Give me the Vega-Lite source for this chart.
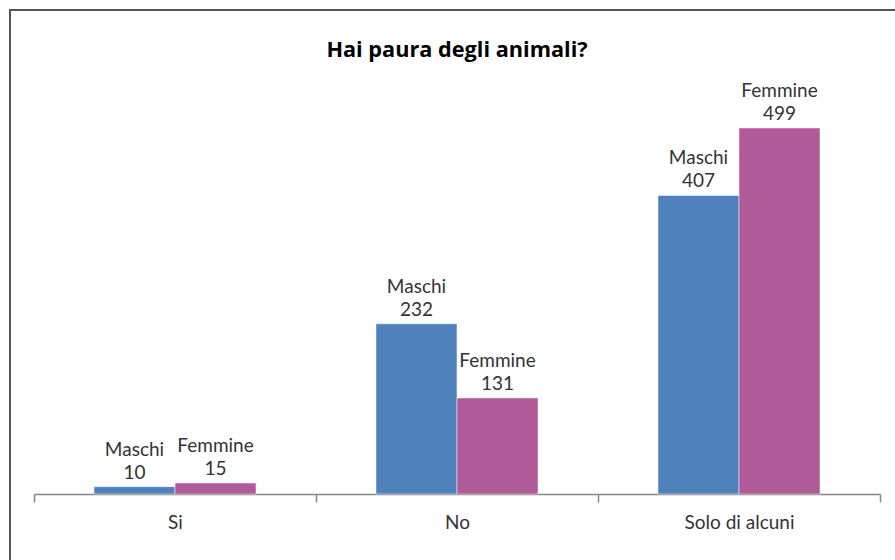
{
  "$schema": "https://vega.github.io/schema/vega-lite/v6.json",
  "autosize": {"type": "none"},
  "width": 900,
  "height": 560,
  "padding": {"left": 10, "top": 10, "right": 0, "bottom": 0},
  "background": "#ffffff",
  "config": {
    "view": {"stroke": "#555555", "strokeWidth": 2},
    "font": "Lato"
  },
  "title": {
    "text": "Hai paura degli animali?",
    "font": "Open Sans",
    "fontSize": 21.7,
    "fontWeight": "bold",
    "color": "#000000",
    "anchor": "middle",
    "frame": "group",
    "offset": -52,
    "dx": -3
  },
  "data": {
    "values": [
      {"risposta": "Si", "sesso": "Maschi", "valore": 10},
      {"risposta": "Si", "sesso": "Femmine", "valore": 15},
      {"risposta": "No", "sesso": "Maschi", "valore": 232},
      {"risposta": "No", "sesso": "Femmine", "valore": 131},
      {"risposta": "Solo di alcuni", "sesso": "Maschi", "valore": 407},
      {"risposta": "Solo di alcuni", "sesso": "Femmine", "valore": 499}
    ]
  },
  "encoding": {
    "x": {
      "field": "risposta",
      "type": "nominal",
      "sort": ["Si", "No", "Solo di alcuni"],
      "scale": {"range": [24, 870], "paddingInner": 0, "paddingOuter": 0},
      "axis": {
        "title": null,
        "labelAngle": 0,
        "offset": -76,
        "domainColor": "#868686",
        "domainWidth": 1.5,
        "tickColor": "#868686",
        "tickWidth": 1.5,
        "tickSize": 8,
        "tickBand": "extent",
        "labelFont": "Lato",
        "labelFontSize": 19,
        "labelColor": "#333333",
        "labelPadding": 11,
        "grid": false
      }
    },
    "xOffset": {
      "field": "sesso",
      "type": "nominal",
      "sort": ["Maschi", "Femmine"],
      "scale": {"paddingInner": 0, "paddingOuter": 0.74}
    },
    "y": {
      "field": "valore",
      "type": "quantitative",
      "scale": {"domain": [-103.6, 659.85], "nice": false, "zero": false},
      "axis": null
    }
  },
  "layer": [
    {
      "mark": {"type": "bar", "stroke": "#ffffff", "strokeWidth": 0.5},
      "encoding": {
        "color": {
          "field": "sesso",
          "type": "nominal",
          "sort": ["Maschi", "Femmine"],
          "scale": {"domain": ["Maschi", "Femmine"], "range": ["#4F81BD", "#B05A9A"]},
          "legend": null
        }
      }
    },
    {
      "mark": {"type": "text", "baseline": "alphabetic", "dy": -8, "fontSize": 19, "color": "#333333", "font": "Lato"},
      "encoding": {"text": {"field": "valore", "type": "quantitative"}}
    },
    {
      "mark": {"type": "text", "baseline": "alphabetic", "dy": -31, "fontSize": 19, "color": "#333333", "font": "Lato"},
      "encoding": {"text": {"field": "sesso", "type": "nominal"}}
    }
  ]
}
